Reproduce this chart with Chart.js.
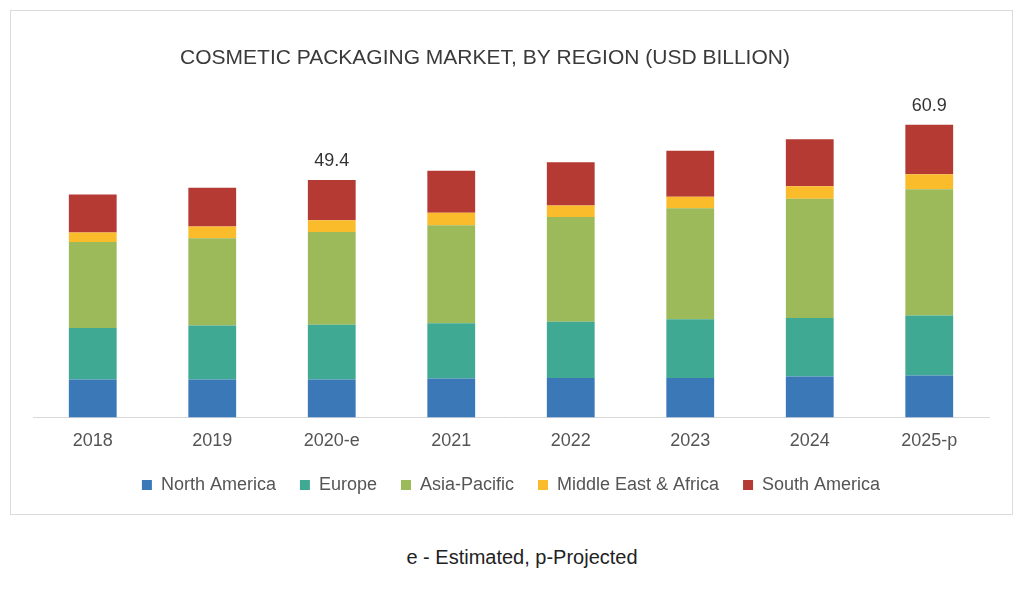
<!DOCTYPE html>
<html>
<head>
<meta charset="utf-8">
<script src="https://cdn.jsdelivr.net/npm/chart.js@4"></script>
<style>
  body { margin: 0; background: #fff; font-family: "Liberation Sans", Arial, sans-serif; }
  #box { position: absolute; left: 10px; top: 10px; width: 1003px; height: 505px; border: 1px solid #dcdcdc; box-sizing: border-box; }
  #note { position: absolute; left: 0; width: 1044px; top: 547px; line-height: 20px; text-align: center; font-size: 20px; color: #222; }
</style>
</head>
<body>
<div id="box"><canvas id="regionChart" width="1001" height="503"></canvas></div>
<div id="note">e - Estimated, p-Projected</div>
<script>
// years on the x axis
const years = ['2018', '2019', '2020-e', '2021', '2022', '2023', '2024', '2025-p'];
// market size per region, USD billion
const northAmerica = [7.9, 7.9, 7.9, 8.1, 8.2, 8.2, 8.5, 8.7];
const europe = [10.7, 11.2, 11.4, 11.5, 11.7, 12.2, 12.2, 12.5];
const asiaPacific = [17.9, 18.2, 19.3, 20.4, 21.8, 23.1, 24.8, 26.3];
const middleEastAfrica = [2.0, 2.4, 2.45, 2.6, 2.4, 2.4, 2.6, 3.1];
const southAmerica = [7.9, 8.1, 8.35, 8.7, 9.0, 9.6, 9.8, 10.3];
// totals shown above the bars
const totalLabels = ['', '', '49.4', '', '', '', '', '60.9'];
const chartTitle = 'COSMETIC PACKAGING MARKET, BY REGION (USD BILLION)';

//title (a bit left of centre like the original) and the totals above the bars
const textPlugin = {
  id: 'texts',
  afterDatasetsDraw(chart) {
    const ctx = chart.ctx;
    ctx.save();
    ctx.textAlign = 'center';
    ctx.textBaseline = 'middle';
    ctx.font = '21px "Liberation Sans", Arial, sans-serif';
    ctx.fillStyle = '#3a3a3a';
    ctx.fillText(chartTitle, 474, 47);

    const meta = chart.getDatasetMeta(chart.data.datasets.length - 1);
    ctx.font = '18px "Liberation Sans", Arial, sans-serif';
    ctx.fillStyle = '#333';
    totalLabels.forEach(function (t, i) {
      if (!t) return;
      const bar = meta.data[i];
      ctx.fillText(t, bar.x, bar.y - 19);
    });
    ctx.restore();
  }
};

document.addEventListener('DOMContentLoaded', function () {
  const data = {
    labels: years,
    datasets: [
      { label: 'North America', data: northAmerica, backgroundColor: '#3b78b8' },
      { label: 'Europe', data: europe, backgroundColor: '#40a993' },
      { label: 'Asia-Pacific', data: asiaPacific, backgroundColor: '#9dba5a' },
      { label: 'Middle East & Africa', data: middleEastAfrica, backgroundColor: '#fbbc2b' },
      { label: 'South America', data: southAmerica, backgroundColor: '#b53a34' },
    ],
  };

  const options = {
    responsive: false,
    animation: false,
    layout: { padding: { left: 22, right: 23, top: 70, bottom: 10 } },
    datasets: { bar: { barPercentage: 0.4, categoryPercentage: 1, borderWidth: 0 } },
    scales: {
      x: {
        stacked: true,
        grid: { display: false, drawTicks: false },
        border: { display: true, color: '#d9d9d9', width: 1 },
        ticks: { color: '#555', padding: 13, font: { size: 18, family: '"Liberation Sans", Arial, sans-serif' } },
        // squeeze the axis box so the bars sit lower, labels stay put
        afterFit: function (axis) { axis.height -= 13; },
      },
      y: {
        stacked: true,
        display: false,
        min: 0,
        max: 70,
      },
    },
    plugins: {
      title: { display: false },
      legend: {
        position: 'bottom',
        labels: {
          color: '#555',
          boxWidth: 10,
          boxHeight: 10,
          padding: 24,
          font: { size: 18, family: '"Liberation Sans", Arial, sans-serif' },
        },
      },
      tooltip: { enabled: false },
    },
  };

  const ctx = document.getElementById('regionChart').getContext('2d');
  new Chart(ctx, {
    type: 'bar',
    data: data,
    options: options,
    plugins: [textPlugin],
  });
});
</script>
</body>
</html>
